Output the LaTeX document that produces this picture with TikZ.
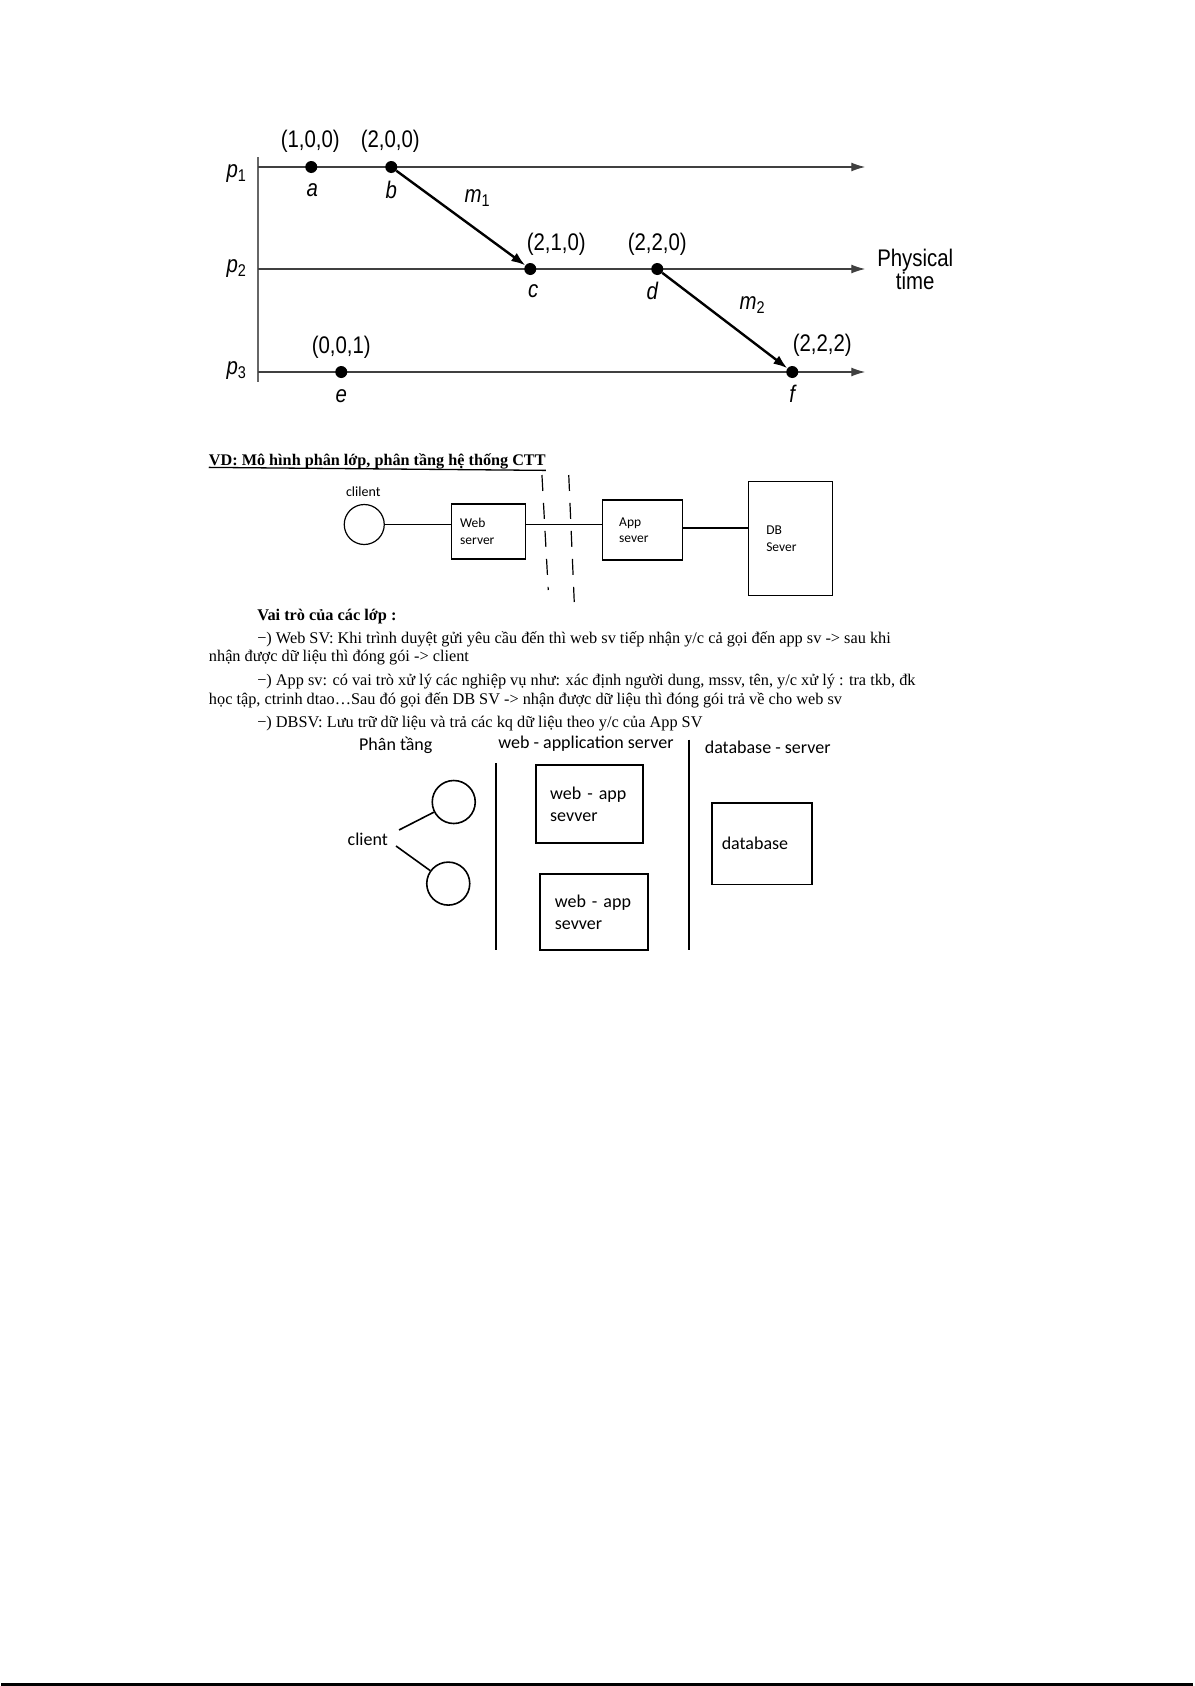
\documentclass[tikz,border=0pt]{standalone}
\usepackage{fontspec}
\setmainfont{Liberation Serif}
\newfontfamily\narrowsf[FakeStretch=0.85]{Liberation Sans}
\newfontfamily\calsf{Carlito}
\usetikzlibrary{shapes, arrows.meta, positioning, fit, calc}

\newcommand{\psub}[2]{{\itshape #1}\raisebox{-0.3ex}{\upshape\fontsize{17}{20}\selectfont #2}}

\begin{document}
\begin{tikzpicture}[x=1pt, y=-1pt,
    event/.style={circle, fill=black, inner sep=0pt, minimum size=12pt},
    axis/.style={draw=black!75, line width=1.4pt, -{Latex[length=14pt,width=9pt]}},
    msg/.style={line width=2.4pt, -{Latex[length=14pt,width=10pt]}},
    vlbl/.style={inner sep=0pt, font=\narrowsf\fontsize{24}{28}\selectfont},
    elbl/.style={inner sep=0pt, font=\narrowsf\itshape\fontsize{24}{28}\selectfont},
    body/.style={anchor=west, inner sep=0pt, font=\fontsize{16.3}{19}\selectfont},
    smallbox/.style={draw, line width=1.2pt, inner xsep=0pt, align=left, font=\calsf\fontsize{13.5}{16.5}\selectfont},
    bigbox/.style={draw, line width=1.6pt, inner xsep=0pt, align=left, font=\calsf\fontsize{18}{22}\selectfont},
    ctext/.style={inner sep=1pt, font=\calsf\fontsize{18}{22}\selectfont}]

  % page
  \fill[white] (0,0) rectangle (1192,1686);
  \draw[line width=2.5pt] (0,1684.5) -- (1192,1684.5);

  % vector clocks
  \draw[draw=black!60, line width=2pt] (257,157) -- (257,382);
  \coordinate (o1) at (257,167);
  \coordinate (o2) at (257,269);
  \coordinate (o3) at (257,372);
  \coordinate (t1) at (864,167);
  \coordinate (t2) at (864,269);
  \coordinate (t3) at (864,372);
  \draw[axis] (o1) -- (t1);
  \draw[axis] (o2) -- (t2);
  \draw[axis] (o3) -- (t3);

  \node[elbl] (p1) at (235,174) {\psub{p}{1}};
  \node[elbl] (p2) at (235,269) {\psub{p}{2}};
  \node[elbl] (p3) at (235,371) {\psub{p}{3}};

  \node[event] (a) at (310,167) {};
  \node[event] (b) at (390,167) {};
  \node[event] (c) at (529,269) {};
  \node[event] (d) at (656,269) {};
  \node[event] (e) at (340,372) {};
  \node[event] (f) at (791,372) {};

  \node[vlbl] (va) at (309,141) {(1,0,0)};
  \node[vlbl] (vb) at (389,141) {(2,0,0)};
  \node[vlbl] (vc) at (555,244) {(2,1,0)};
  \node[vlbl] (vd) at (656,244) {(2,2,0)};
  \node[vlbl] (ve) at (340,347) {(0,0,1)};
  \node[vlbl] (vf) at (821,345) {(2,2,2)};

  \node[elbl] (la) at (311,190) {a};
  \node[elbl] (lb) at (390,190) {b};
  \node[elbl] (lc) at (532,291) {c};
  \node[elbl] (ld) at (651,291) {d};
  \node[elbl] (le) at (340,396) {e};
  \node[elbl] (lf) at (791,394) {f};

  \draw[msg] (b) -- (c);
  \draw[msg] (d) -- (f);
  \node[elbl] (m1) at (476,198) {\psub{m}{1}};
  \node[elbl] (m2) at (751,305) {\psub{m}{2}};

  \node[vlbl, align=center] (phys) at (914,269) {Physical\\[-5pt]time};

  % layered model
  \node[anchor=west, inner sep=0pt, font=\bfseries\fontsize{16.2}{19}\selectfont] (title) at (207.5,461) {VD: Mô hình phân lớp, phân tầng hệ thống CTT};
  \draw[line width=1.3pt] (title.south west) ++(0,-1.5) -- ($(title.south east)+(0,1.5)$);

  \node[circle, draw, line width=1.2pt, minimum size=40pt, inner sep=0pt] (cli) at (363,524.5) {};
  \node[inner sep=0pt, font=\calsf\fontsize{14}{16}\selectfont] (clitxt) at (362,492) {clilent};
  \node[smallbox, minimum width=74.5pt, minimum height=55pt, text width=56.5pt, inner xsep=9pt] (web) at (487.2,531.5) {Web\\server};
  \node[smallbox, minimum width=80.5pt, minimum height=60pt, text width=46.5pt, inner xsep=17pt] (app) at (641.2,530) {App\\sever};
  \node[smallbox, minimum width=84pt, minimum height=114pt, text width=48pt, inner xsep=18pt] (db) at (789,538.5) {DB\\Sever};

  \draw[line width=1.1pt] (cli.east) -- (cli.east -| web.west);
  \draw[line width=1.1pt] ([yshift=7pt]web.east) -- ([yshift=7pt]web.east -| app.west);
  \draw[line width=1.1pt] ([yshift=2pt]app.east) -- ([yshift=2pt]app.east -| db.west);

  \draw[line width=1.2pt, dash pattern=on 16pt off 12pt] (540.7,475) -- (547,590);
  \draw[line width=1.2pt, dash pattern=on 16pt off 12pt] (567.5,475) -- (573,602);

  % roles
  \node[body, font=\bfseries\fontsize{16.3}{19}\selectfont] (roles) at (255.8,617) {Vai trò của các lớp :};
  \node[body] (l1) at (255.8,639.6) {−) Web SV: Khi trình duyệt gửi yêu cầu đến thì web sv tiếp nhận y/c cả gọi đến app sv -> sau khi};
  \node[body] (l2) at (207.5,657.8) {nhận được dữ liệu thì đóng gói -> client};
  \node[body] (l3) at (255.8,681.5) {−) App sv: có vai trò xử lý các nghiệp vụ như: xác định người dung, mssv, tên, y/c xử lý : tra tkb, đk};
  \node[body] (l4) at (207.5,700.8) {học tập, ctrinh dtao…Sau đó gọi đến DB SV -> nhận được dữ liệu thì đóng gói trả về cho web sv};
  \node[body] (l5) at (255.8,723.4) {−) DBSV: Lưu trữ dữ liệu và trả các kq dữ liệu theo y/c của App SV};

  % tiers
  \node[ctext] (tier) at (394.5,745) {Phân tầng};
  \node[ctext] (wastier) at (584.7,744) {web - application server};
  \node[ctext] (dbtier) at (766.4,747) {database - server};
  \draw[line width=1.6pt] (494.5,763) -- (494.5,950);
  \draw[line width=1.6pt] (688,739.5) -- (688,950);

  \node[bigbox, minimum width=106.7pt, minimum height=77.7pt, text width=78.7pt, inner xsep=14pt] (was1) at (588.3,803.9) {\rule{0pt}{4pt}web - app\\sevver};
  \node[bigbox, minimum width=106.4pt, minimum height=76pt, text width=78.4pt, inner xsep=15pt] (was2) at (592.8,912) {\rule{0pt}{4pt}web - app\\sevver};
  \node[bigbox, minimum width=100pt, minimum height=81.6pt, text width=80pt, inner xsep=10pt] (dbase) at (760.5,843.8) {database};

  \node[ctext] (client) at (366.5,839.5) {client};
  \node[circle, draw, line width=1.6pt, minimum size=43pt, inner sep=0pt] (c1) at (452.5,802) {};
  \node[circle, draw, line width=1.6pt, minimum size=43pt, inner sep=0pt] (c2) at (447,883.6) {};
  \draw[line width=1.6pt] ([shift={(10pt,9.5pt)}]client.east) -- (c1);
  \draw[line width=1.6pt] ([shift={(7pt,-6.5pt)}]client.east) -- (c2);
\end{tikzpicture}
\end{document}
